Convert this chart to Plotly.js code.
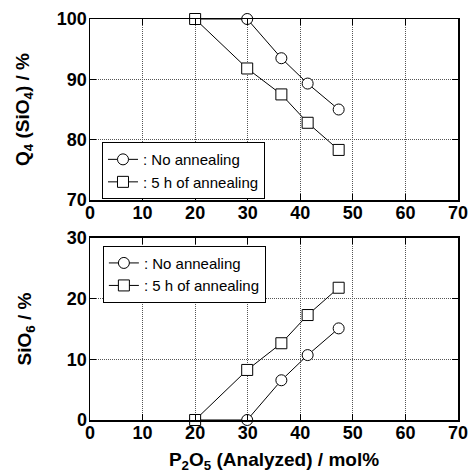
<!DOCTYPE html>
<html><head><meta charset="utf-8">
<script src="https://cdn.plot.ly/plotly-3.0.1.min.js"></script>
<style>body{margin:0;padding:0;background:#fff}#c{width:469px;height:473px}</style>
</head><body><div id="c"></div>
<script>
// Data
const p2o5 = [20, 29.9, 36.4, 41.4, 47.3];
const q4NoAnneal = [100, 100, 93.5, 89.3, 85.0];
const q4Anneal5h = [100, 91.8, 87.5, 82.8, 78.3];
const sio6NoAnneal = [0, 0, 6.55, 10.7, 15.1];
const sio6Anneal5h = [0, 8.25, 12.65, 17.3, 21.8];
const seriesNames = [': No annealing', ': 5 h of annealing'];
const xTicks = [0, 10, 20, 30, 40, 50, 60, 70];
const q4Ticks = [70, 80, 90, 100];
const sio6Ticks = [0, 10, 20, 30];

const FONT = 'Liberation Sans, Arial, sans-serif';
const lineStyle = {color: '#000', width: 1};
const circ = {symbol: 'circle', size: 11, color: '#fff', line: {color: '#000', width: 1}};
const sq = {symbol: 'square', size: 11, color: '#fff', line: {color: '#000', width: 1}};

const traces = [
  {x: p2o5, y: q4NoAnneal, xaxis: 'x', yaxis: 'y', mode: 'lines+markers', name: seriesNames[0], line: lineStyle, marker: circ, cliponaxis: false, legend: 'legend'},
  {x: p2o5, y: q4Anneal5h, xaxis: 'x', yaxis: 'y', mode: 'lines+markers', name: seriesNames[1], line: lineStyle, marker: sq, cliponaxis: false, legend: 'legend'},
  {x: p2o5, y: sio6NoAnneal, xaxis: 'x2', yaxis: 'y2', mode: 'lines+markers', name: seriesNames[0], line: lineStyle, marker: circ, cliponaxis: false, legend: 'legend2'},
  {x: p2o5, y: sio6Anneal5h, xaxis: 'x2', yaxis: 'y2', mode: 'lines+markers', name: seriesNames[1], line: lineStyle, marker: sq, cliponaxis: false, legend: 'legend2'}
];

const b = s => '<b>' + s + '</b>';
const tickFont = {family: FONT, size: 18, color: '#000'};
const titleFont = {family: FONT, size: 19, color: '#000'};
const common = {
  showline: true, linecolor: '#000', linewidth: 1.5, mirror: 'ticks',
  ticks: 'inside', ticklen: 6, tickcolor: '#000', tickwidth: 1,
  showgrid: true, gridcolor: '#555', griddash: '1px,1px', gridwidth: 1,
  zeroline: false, tickfont: tickFont
};
function xax(anchor, withTitle) {
  const a = Object.assign({
    anchor: anchor, range: [0, 70], tickvals: xTicks, ticktext: xTicks.map(v => b(v)),
    ticklabelstandoff: -4
  }, common);
  if (withTitle) a.title = {text: b('P<sub>2</sub>O<sub>5</sub> (Analyzed) / mol%'), font: titleFont, standoff: 10};
  return a;
}
function yax(anchor, domain, range, ticks, title, standoff) {
  return Object.assign({
    anchor: anchor, domain: domain, range: range, tickvals: ticks, ticktext: ticks.map(v => b(v)),
    ticklabelstandoff: -2,
    title: {text: b(title), font: titleFont, standoff: standoff}
  }, common);
}
const legendCommon = {
  xanchor: 'left', yanchor: 'top', bgcolor: '#fff', bordercolor: '#000', borderwidth: 1,
  font: {family: FONT, size: 15, color: '#000'}, tracegroupgap: 0
};
const layout = {
  width: 469, height: 473,
  margin: {l: 90, r: 11, t: 19, b: 53},
  paper_bgcolor: '#fff', plot_bgcolor: '#fff',
  showlegend: true,
  xaxis: xax('y', false),
  yaxis: yax('x', [0.5486, 1], [70, 100], q4Ticks, 'Q<sub>4</sub> (SiO<sub>4</sub>) / %', 22),
  xaxis2: xax('y2', true),
  yaxis2: yax('x2', [0, 0.4539], [0, 30], sio6Ticks, 'SiO<sub>6</sub> / %', 30),
  legend: Object.assign({x: 0.0326, y: 0.693}, legendCommon),
  legend2: Object.assign({x: 0.035, y: 0.4347}, legendCommon)
};
Plotly.newPlot('c', traces, layout, {displayModeBar: false, staticPlot: true});
</script></body></html>
